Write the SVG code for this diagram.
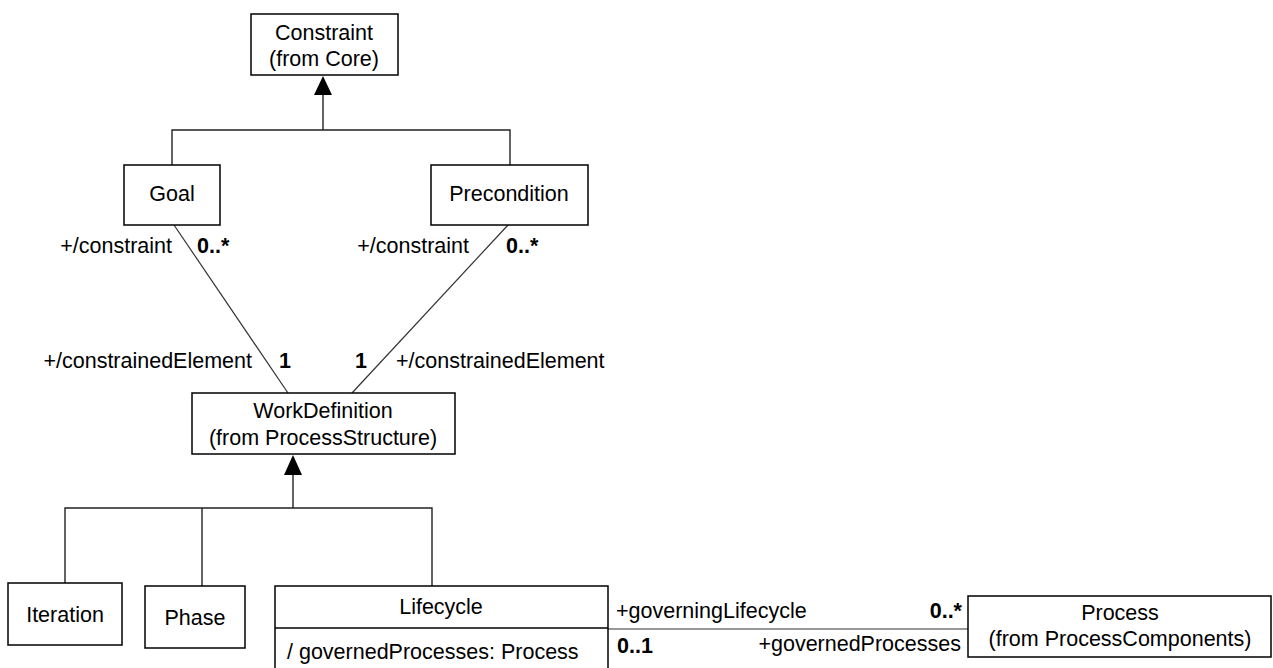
<svg xmlns="http://www.w3.org/2000/svg" width="1273" height="668" viewBox="0 0 1273 668">
  <style>
    .box { fill: #fff; stroke: #000; stroke-width: 1.5; }
    .ln { fill: none; stroke: #222; stroke-width: 1.4; }
    .as { fill: none; stroke: #333; stroke-width: 1.2; }
    .tip { fill: #000; }
    text { font-family: "Liberation Sans", Arial, sans-serif; font-size: 21.5px; fill: #000; }
    .c { text-anchor: middle; }
    .e { text-anchor: end; }
    .b { font-weight: bold; }
  </style>

  <rect width="1273" height="668" fill="#fff"/>

  <!-- connectors -->
  <g id="connectors">
    <!-- generalization: Goal / Precondition to Constraint -->
    <path class="ln" d="M172,165 V130 H510 V165 M323,130 V94"/>
    <polygon class="tip" points="323,76 314,95 332,95"/>
    <!-- generalization: Iteration / Phase / Lifecycle to WorkDefinition -->
    <path class="ln" d="M65,583 V508 H432 V586 M202,508 V586 M293,508 V474"/>
    <polygon class="tip" points="293,455 284,475 302,475"/>
    <!-- associations -->
    <line class="as" x1="174" y1="225" x2="288" y2="393"/>
    <line class="as" x1="508" y1="225" x2="352" y2="393"/>
    <line class="as" x1="608" y1="629" x2="968" y2="629"/>

    <text x="172" y="253" class="e">+/constraint</text>
    <text x="197" y="253" class="b">0..*</text>
    <text x="469" y="253" class="e">+/constraint</text>
    <text x="506" y="253" class="b">0..*</text>
    <text x="252" y="368" class="e">+/constrainedElement</text>
    <text x="279" y="368" class="b">1</text>
    <text x="355" y="368" class="b">1</text>
    <text x="396" y="368">+/constrainedElement</text>
    <text x="616" y="618">+governingLifecycle</text>
    <text x="962" y="618" class="e b">0..*</text>
    <text x="617" y="653" class="b">0..1</text>
    <text x="961" y="651" class="e">+governedProcesses</text>
  </g>

  <g id="constraint">
    <rect class="box" x="251" y="14" width="147" height="61"/>
    <text x="324" y="40" class="c">Constraint</text>
    <text x="324" y="66" class="c">(from Core)</text>
  </g>

  <g id="goal">
    <rect class="box" x="124" y="165" width="96" height="60"/>
    <text x="172" y="201" class="c">Goal</text>
  </g>

  <g id="precondition">
    <rect class="box" x="431" y="165" width="157" height="60"/>
    <text x="509" y="201" class="c">Precondition</text>
  </g>

  <g id="workdefinition">
    <rect class="box" x="192" y="393" width="263" height="61"/>
    <text x="323" y="418" class="c">WorkDefinition</text>
    <text x="323" y="445" class="c">(from ProcessStructure)</text>
  </g>

  <g id="iteration">
    <rect class="box" x="8" y="583" width="114" height="62"/>
    <text x="65" y="622" class="c">Iteration</text>
  </g>

  <g id="phase">
    <rect class="box" x="145" y="586" width="100" height="62"/>
    <text x="195" y="625" class="c">Phase</text>
  </g>

  <g id="lifecycle">
    <rect class="box" x="275" y="586" width="333" height="90"/>
    <line class="box" x1="275" y1="628" x2="608" y2="628"/>
    <text x="441" y="614" class="c">Lifecycle</text>
    <text x="287" y="659">/ governedProcesses: Process</text>
  </g>

  <g id="process">
    <rect class="box" x="968" y="596" width="303" height="61"/>
    <text x="1120" y="620" class="c">Process</text>
    <text x="1120" y="646" class="c">(from ProcessComponents)</text>
  </g>
</svg>
